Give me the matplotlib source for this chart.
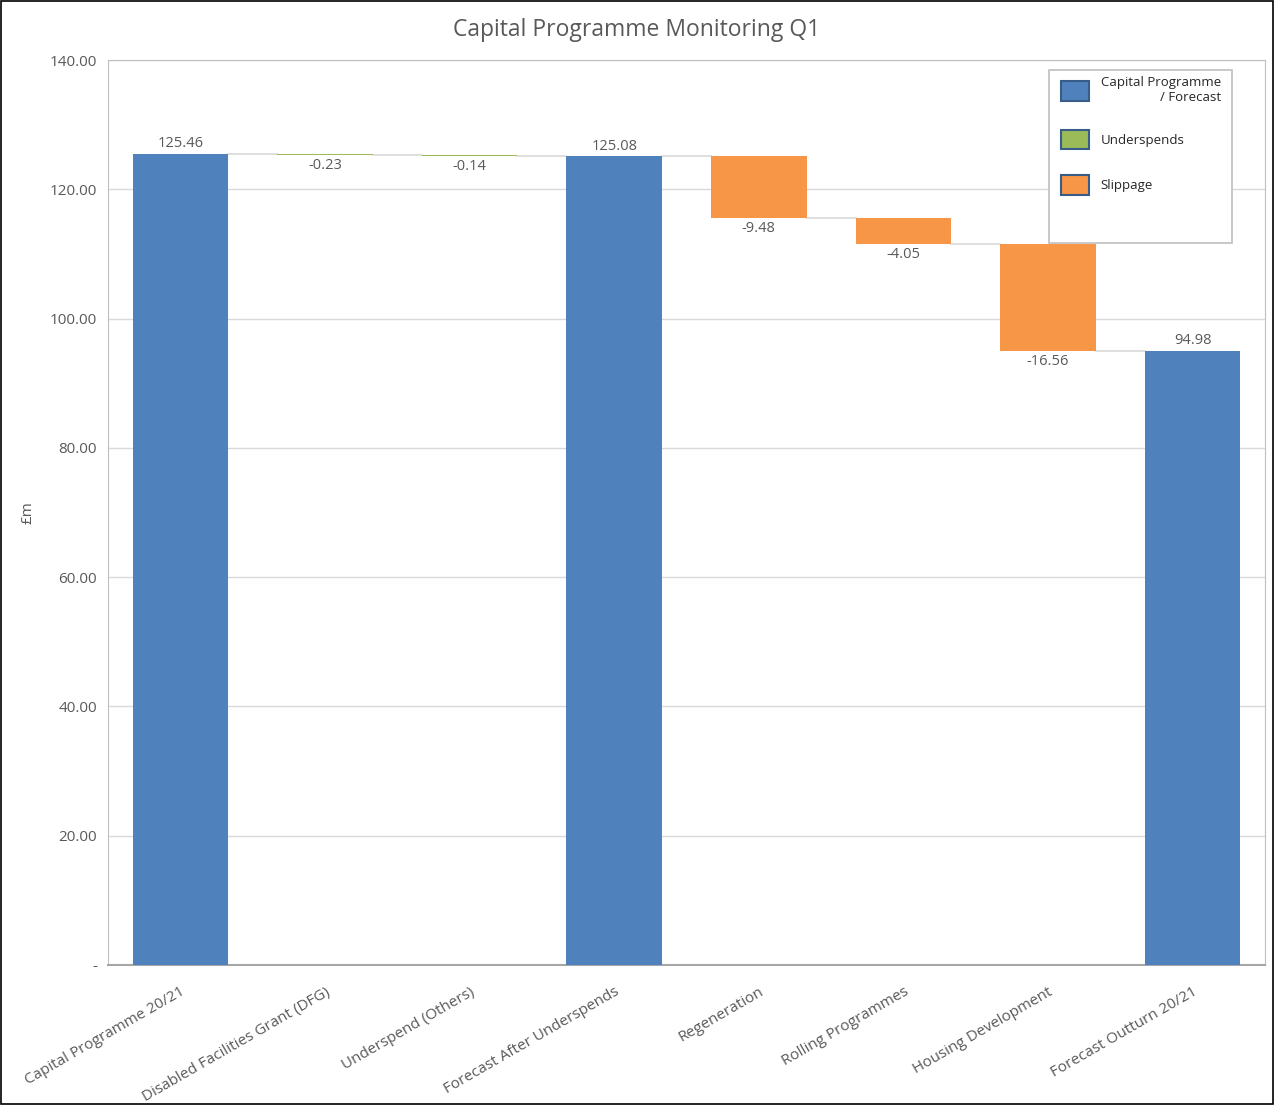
import matplotlib.pyplot as plt
from matplotlib.patches import Patch, Rectangle
import numpy as np

# waterfall data (fm)
categories = ['Capital Programme 20/21', 'Disabled Facilities Grant (DFG)', 'Underspend (Others)',
              'Forecast After Underspends', 'Regeneration', 'Rolling Programmes',
              'Housing Development', 'Forecast Outturn 20/21']
values = [125.46, -0.23, -0.14, 125.08, -9.48, -4.05, -16.56, 94.98]
kinds = ['total', 'under', 'under', 'total', 'slip', 'slip', 'slip', 'total']

colours = {'total': '#4F81BD', 'under': '#9BBB59', 'slip': '#F79646'}
txt = '#595959'

plt.rcParams['font.family'] = ['Open Sans', 'DejaVu Sans']

fig = plt.figure(figsize=(12.74, 11.05), dpi=100)
ax = fig.add_axes([0.0848, 0.1267, 0.9081, 0.819])

# work out bar bottoms/tops
bottoms = []
tops = []
level = 0
for v, k in zip(values, kinds):
    if k == 'total':
        bottoms.append(0)
        tops.append(v)
        level = v
    else:
        bottoms.append(level + v)
        tops.append(level)
        level = level + v

x = np.arange(len(categories))
w = 0.66
heights = [t - b for t, b in zip(tops, bottoms)]
ax.bar(x, heights, bottom=bottoms, width=w,
       color=[colours[k] for k in kinds], zorder=3)

# connector lines
for i in range(len(x) - 1):
    lev = bottoms[i] if kinds[i] != 'total' else tops[i]
    ax.plot([x[i] + w / 2, x[i + 1] - w / 2], [lev, lev], color='#D9D9D9', lw=1.2, zorder=2)

# data labels
for i, (v, k) in enumerate(zip(values, kinds)):
    if k == 'total':
        ax.annotate('%.2f' % v, (x[i], tops[i]), xytext=(0, 2), textcoords='offset points',
                    ha='center', va='bottom', fontsize=10.5, color=txt)
    else:
        ax.annotate('%.2f' % v, (x[i], bottoms[i]), xytext=(0, -2), textcoords='offset points',
                    ha='center', va='top', fontsize=10.5, color=txt)

ax.set_xlim(-0.5, len(x) - 0.5)
ax.set_ylim(0, 140)
ax.set_yticks(np.arange(0, 141, 20))
ax.set_yticklabels(['-'] + ['%.2f' % t for t in np.arange(20, 141, 20)])
ax.yaxis.grid(True, color='#D9D9D9', lw=1, zorder=0)
ax.set_axisbelow(True)
ax.tick_params(length=0, labelsize=11, colors=txt)
ax.tick_params(axis='y', pad=8)
ax.set_xticks(x)
ax.set_xticklabels(categories, rotation=30, ha='right', rotation_mode='anchor', fontsize=11, color=txt)
ax.tick_params(axis='x', pad=14)
for s in ax.spines.values():
    s.set_color('#BFBFBF')
ax.spines['bottom'].set_color('#A6A6A6')
ax.spines['bottom'].set_linewidth(1.5)

ax.set_ylabel('£m', fontsize=11, color=txt, labelpad=10)

fig.suptitle('Capital Programme Monitoring Q1', y=0.984, fontsize=16.5, color=txt)

# legend box drawn by hand so it can be taller than its entries
ax.add_patch(Rectangle((0.813, 0.798), 0.1585, 0.191, transform=ax.transAxes,
                       facecolor='white', edgecolor='#BFBFBF', lw=1.2, zorder=4))
handles = [Patch(facecolor=colours['total'], edgecolor='#385D8A', lw=1.5),
           Patch(facecolor=colours['under'], edgecolor='#385D8A', lw=1.5),
           Patch(facecolor=colours['slip'], edgecolor='#385D8A', lw=1.5)]
leg = ax.legend(handles, ['Capital Programme\n/ Forecast', 'Underspends', 'Slippage'],
                loc='upper left', bbox_to_anchor=(0.817, 0.991), frameon=False,
                fontsize=9.5, labelspacing=1.95,
                handlelength=2.1, handleheight=1.9, borderpad=0.6, handletextpad=0.9,
                borderaxespad=0)
leg.set_zorder(5)
for t in leg.get_texts():
    t.set_color('#262626')
    t.set_multialignment('right')

# outer border
fig.patches.append(Rectangle((0.001, 0.001), 0.998, 0.998, transform=fig.transFigure,
                             fill=False, edgecolor='black', lw=1.2))

fig.savefig('out.png', dpi=100)
